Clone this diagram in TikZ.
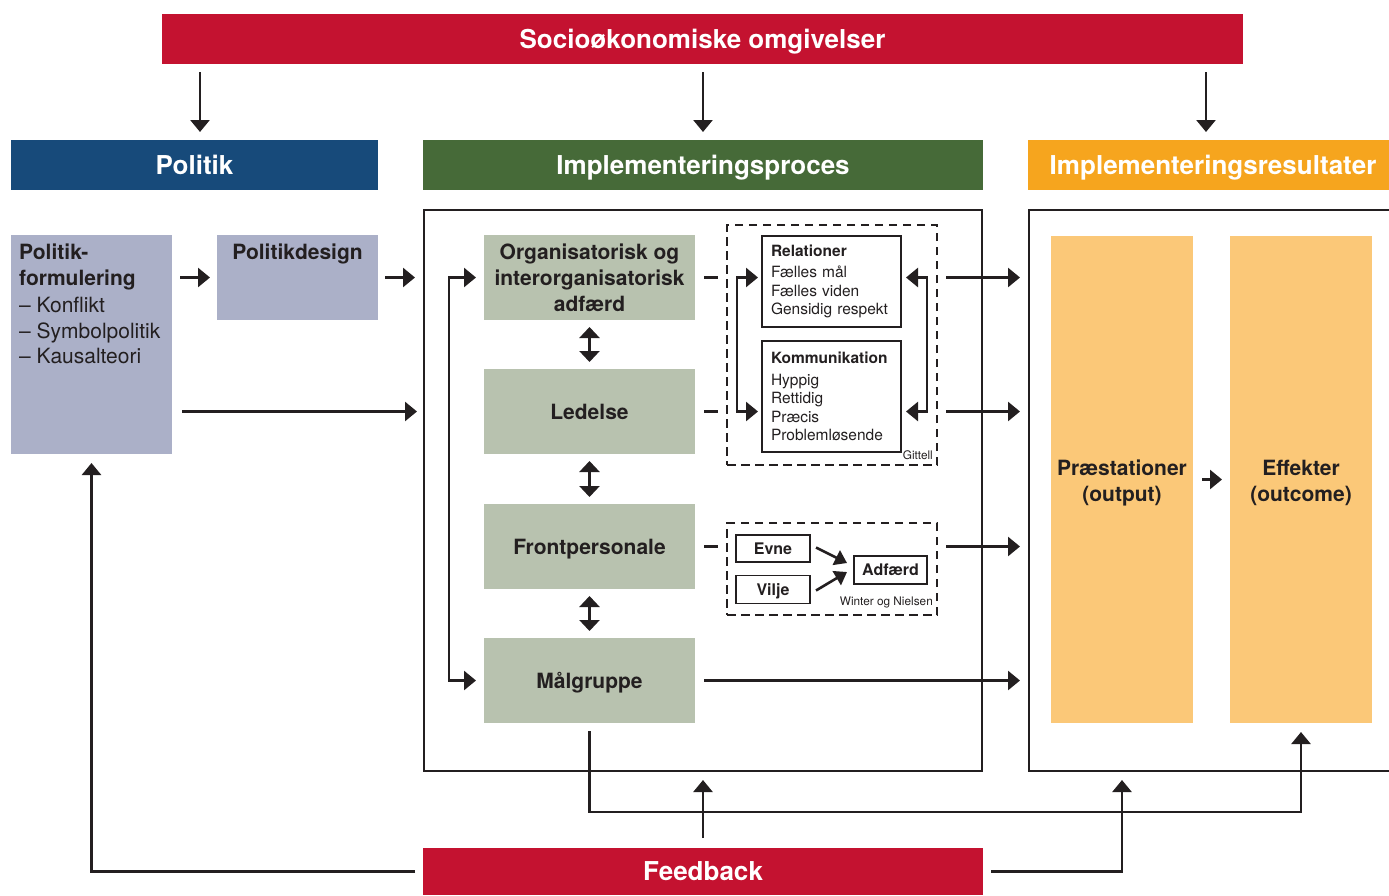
\documentclass[tikz,border=0pt]{standalone}
\usepackage{fontspec}
\setmainfont{TeX Gyre Heros}
\usetikzlibrary{arrows.meta,calc}
\definecolor{cred}{HTML}{C41230}
\definecolor{cblue}{HTML}{174A7A}
\definecolor{cgreen}{HTML}{466A38}
\definecolor{corange}{HTML}{F6A51E}
\definecolor{clav}{HTML}{ABB0C8}
\definecolor{csage}{HTML}{B8C2AF}
\definecolor{clorange}{HTML}{FBC878}
\definecolor{ink}{HTML}{231F20}
\tikzset{
  bar/.style={fill=#1, text=white, inner sep=0pt, outer sep=0pt,
    font=\bfseries\fontsize{26}{30}\selectfont, text height=18.7pt, text depth=0pt},
  blk/.style={fill=#1, inner sep=0pt, outer sep=0pt, text=ink, align=center,
    font=\bfseries\fontsize{21}{26}\selectfont},
  oneline/.style={text height=15pt, text depth=0pt},
  ln/.style={draw=ink, line width=2.6pt},
  frame/.style={draw=ink, line width=2.6pt, inner sep=0pt, outer sep=0pt},
  dbox/.style={draw=ink, line width=2.8pt, dash pattern=on 8.5pt off 5.5pt, inner sep=0pt, outer sep=0pt},
  ibox/.style={draw=ink, line width=1.5pt, outer sep=0pt, inner ysep=0pt, text=ink,
    font=\fontsize{15.5}{18.5}\selectfont},
  sbox/.style={draw=ink, line width=1.5pt, outer sep=0pt, inner sep=0pt, text=ink,
    font=\bfseries\fontsize{16}{19}\selectfont, text height=11.5pt, text depth=0pt},
  small/.style={inner sep=0pt, text=ink, font=\fontsize{11.8}{13}\selectfont},
  dbl/.style={ln, {Triangle[length=11pt,width=20pt]}-{Triangle[length=11pt,width=20pt]}},
}
\begin{document}
\begin{tikzpicture}[x=1pt,y=-1pt, >={Triangle[length=12pt,width=19pt]}]
\useasboundingbox (0,0) rectangle (1389,895);

% header bars
\node[bar=cred, minimum width=1081pt, minimum height=50pt] (soc) at (702.5,39) {Socioøkonomiske omgivelser};
\node[bar=cblue, minimum width=367pt, minimum height=50pt] (pol) at (194.5,165) {Politik};
\node[bar=cgreen, minimum width=560pt, minimum height=50pt] (ip) at (703,165) {Implementeringsproces};
\node[bar=corange, minimum width=370pt, minimum height=50pt] (ir) at (1213,165) {Implementeringsresultater};
\node[bar=cred, minimum width=560pt, minimum height=47pt] (fb) at (703,871.5) {Feedback};

% frames
\node[frame, minimum width=558pt, minimum height=561pt] (ipbox) at (703,490.5) {};
\node[frame, minimum width=371pt, minimum height=561pt] (rbox) at (1214.5,490.5) {};

% politik column
\node[blk=clav, minimum width=161pt, minimum height=219pt] (pf) at (91.5,344.5) {};
\node[anchor=north west, inner sep=0pt, align=left, text=ink,
  font=\fontsize{21}{25.5}\selectfont] (pftxt) at (19,244)
  {\textbf{Politik-}\\\textbf{formulering}\\[2pt]– Konflikt\\– Symbolpolitik\\– Kausalteori};
\node[blk=clav, minimum width=161pt, minimum height=85pt] (pd) at (297.5,277.5) {};
\node[anchor=north, inner sep=0pt, text=ink, font=\bfseries\fontsize{21}{26}\selectfont] (pdtxt) at (297.5,244) {Politikdesign};

% implementation column
\node[blk=csage, minimum width=211pt, minimum height=85pt] (org) at (589.5,277.5)
  {Organisatorisk og\\interorganisatorisk\\adfærd};
\node[blk=csage, oneline, minimum width=211pt, minimum height=85pt] (led) at (589.5,411.5) {Ledelse};
\node[blk=csage, oneline, minimum width=211pt, minimum height=85pt] (front) at (589.5,546.5) {Frontpersonale};
\node[blk=csage, oneline, minimum width=211pt, minimum height=85pt] (mal) at (589.5,680.5) {Målgruppe};

% dashed boxes
\node[dbox, minimum width=210pt, minimum height=240pt] (db1) at (832,345) {};
\node[dbox, minimum width=210pt, minimum height=92pt] (db2) at (832,569) {};

\node[ibox, text width=121pt, inner xsep=9pt, minimum height=91pt, align=left] (rel) at (831.5,281.5)
  {\textbf{Relationer}\\[3pt]Fælles mål\\Fælles viden\\Gensidig respekt};
\node[ibox, text width=121pt, inner xsep=9pt, minimum height=111pt, align=left] (kom) at (831.5,396.5)
  {\textbf{Kommunikation}\\[3pt]Hyppig\\Rettidig\\Præcis\\Problemløsende};
\node[small, anchor=base east] (git) at (933,459) {Gittell};

\node[sbox, minimum width=74pt, minimum height=27pt] (evne) at (773,548.5) {Evne};
\node[sbox, minimum width=74pt, minimum height=28pt] (vilje) at (773,589.5) {Vilje};
\node[sbox, minimum width=73pt, minimum height=28pt] (adf) at (890.5,570) {Adfærd};
\node[small, anchor=base east] (wn) at (933,605.5) {Winter og Nielsen};

% results column
\node[blk=clorange, minimum width=142pt, minimum height=487pt] (pr) at (1122,479.5) {\rule{0pt}{22pt}Præstationer\\(output)};
\node[blk=clorange, minimum width=142pt, minimum height=487pt] (ef) at (1301,479.5) {\rule{0pt}{22pt}Effekter\\(outcome)};

% top arrows
\draw[ln, ->, shorten <=8pt, shorten >=8pt] (soc.south -| {200,0}) -- ([xshift=5.5pt]pol.north);
\draw[ln, ->, shorten <=8pt, shorten >=8pt] (soc.south -| ip.north) -- (ip.north);
\draw[ln, ->, shorten <=8pt, shorten >=8pt] (soc.south -| {1206,0}) -- ([xshift=-7pt]ir.north);

% politik arrows
\draw[ln, ->, shorten <=8pt, shorten >=7pt] (pf.east |- pd) -- (pd.west);
\draw[ln, ->, shorten <=7pt, shorten >=9pt] (pd.east) -- (ipbox.west |- pd);
\draw[ln, ->, shorten <=10pt, shorten >=7pt] (pf.east |- led) -- (ipbox.west |- led);

% left bracket
\draw[ln, <->, shorten <=8pt, shorten >=8pt] (org.west) -- ++(-35,0) |- (mal.west);

% double arrows
\draw[dbl, shorten <=7pt, shorten >=7pt] (org.south) -- (led.north);
\draw[dbl, shorten <=7pt, shorten >=7pt] (led.south) -- (front.north);
\draw[dbl, shorten <=7pt, shorten >=7pt] (front.south) -- (mal.north);

% dashes to dashed boxes
\draw[ln, shorten <=9pt, shorten >=9pt] (org.east) -- (db1.west |- org);
\draw[ln, shorten <=9pt, shorten >=9pt] (led.east) -- (db1.west |- led);
\draw[ln, shorten <=9pt, shorten >=9pt] (front.east) -- (db2.west |- front);

% arrows to results
\draw[ln, ->, shorten <=9pt, shorten >=9pt] (db1.east |- org) -- (rbox.west |- org);
\draw[ln, ->, shorten <=9pt, shorten >=9pt] (db1.east |- led) -- (rbox.west |- led);
\draw[ln, ->, shorten <=9pt, shorten >=9pt] (db2.east |- front) -- (rbox.west |- front);
\draw[ln, ->, shorten <=9pt, shorten >=9pt] (mal.east) -- (rbox.west |- mal);

% inner brackets
\draw[ln, <->, shorten <=4pt, shorten >=4pt] (rel.west |- org) -- ++(-25,0) |- (kom.west |- led);
\draw[ln, <->, shorten <=5pt, shorten >=5pt] (rel.east |- org) -- ++(26,0) |- (kom.east |- led);

% evne / vilje arrows
\draw[ln, -{Triangle[length=12pt,width=16pt]}] ($(evne.east)+(6,-1)$) -- ($(adf.west)+(-7,-7)$);
\draw[ln, -{Triangle[length=12pt,width=16pt]}] ($(vilje.east)+(6,1)$) -- ($(adf.west)+(-7,2)$);

% output -> outcome
\draw[ln, ->, shorten <=9pt, shorten >=8pt] (pr.east) -- (ef.west);

% feedback
\draw[ln, ->, shorten <=8pt, shorten >=9pt] (fb.west) -| (pf.south);
\draw[ln, ->, shorten <=10pt, shorten >=9pt] (fb.north) -- (ipbox.south);
\draw[ln, ->, shorten <=8pt, shorten >=9pt] (fb.east) -| (pr.south |- rbox.south);
\draw[ln, ->, shorten <=8pt, shorten >=9pt] (mal.south) -- ++(0,89) -| (ef.south);
\end{tikzpicture}
\end{document}
